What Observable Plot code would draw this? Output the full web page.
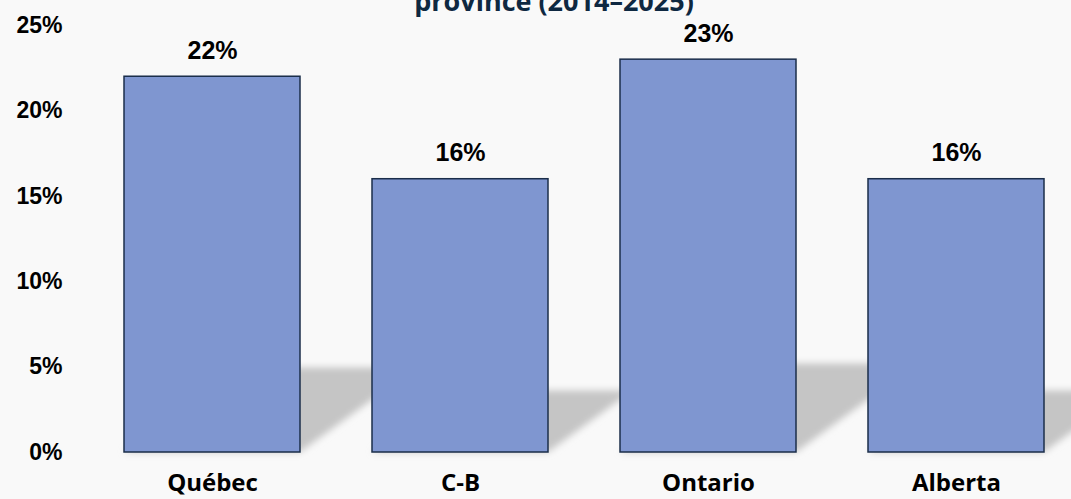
<!DOCTYPE html>
<html><head><meta charset="utf-8">
<script src="https://cdn.jsdelivr.net/npm/d3@7"></script>
<script src="https://cdn.jsdelivr.net/npm/@observablehq/plot@0.6"></script>
<style>
html,body{margin:0;padding:0;background:#f9f9f9;}
#chart{width:1071px;height:499px;overflow:hidden;}
#chart svg{display:block;}
</style></head><body><div id="chart"></div>
<script>
const provinces = ["Québec", "C-B", "Ontario", "Alberta"];
const shares = [22, 16, 23, 16];
const yTicks = [0, 5, 10, 15, 20, 25];
const titleLine = "province (2014–2025)";

const data = provinces.map((p, i) => ({province: p, share: shares[i]}));
const SVGNS = "http://www.w3.org/2000/svg";

function shadowRender(index, scales, values, dimensions, context, next) {
  const g = next(index, scales, values, dimensions, context);
  const y0 = scales.y(0);
  const outer = document.createElementNS(SVGNS, "g");
  const defs = document.createElementNS(SVGNS, "defs");
  const filter = document.createElementNS(SVGNS, "filter");
  filter.setAttribute("id", "barShadowBlur");
  filter.setAttribute("x", "-20%"); filter.setAttribute("y", "-20%");
  filter.setAttribute("width", "140%"); filter.setAttribute("height", "140%");
  const blur = document.createElementNS(SVGNS, "feGaussianBlur");
  blur.setAttribute("stdDeviation", "3.5");
  filter.appendChild(blur);
  defs.appendChild(filter);
  outer.appendChild(defs);
  const inner = document.createElementNS(SVGNS, "g");
  inner.setAttribute("transform", `translate(0,${y0}) skewX(-54) scale(1,0.225) translate(0,${-y0})`);
  inner.appendChild(g);
  const blurred = document.createElementNS(SVGNS, "g");
  blurred.setAttribute("filter", "url(#barShadowBlur)");
  blurred.appendChild(inner);
  outer.appendChild(blurred);
  return outer;
}

const chart = Plot.plot({
  width: 1071,
  height: 499,
  marginLeft: 123,
  marginRight: 25,
  marginTop: 25,
  marginBottom: 47,
  style: {background: "transparent", overflow: "hidden"},
  x: {domain: provinces, paddingInner: 0.29, paddingOuter: 0, label: null},
  y: {domain: [0, 25], label: null},
  marks: [
    Plot.barY(data, {x: "province", y: "share", fill: "#c5c5c5", render: shadowRender}),
    Plot.barY(data, {x: "province", y: "share", fill: "#7f96d0", stroke: "#1b2e4a", strokeWidth: 1.5}),
    Plot.text(data, {x: "province", y: "share", text: d => d.share + "%", dy: -26,
      fontSize: 25, fontWeight: "bold", fontFamily: "Liberation Sans, Arial, sans-serif", fill: "#000"}),
    Plot.axisY({ticks: yTicks, tickFormat: d => d + "%", tickSize: 0, tickPadding: 61, label: null,
      fontSize: 23, fontWeight: "bold", fontFamily: "Liberation Sans, Arial, sans-serif", fill: "#000"}),
    Plot.axisX({tickSize: 0, tickPadding: 21, label: null,
      fontSize: 24, fontWeight: "bold", fontFamily: "Open Sans, sans-serif", fill: "#000"}),
    Plot.text([titleLine], {frameAnchor: "top", text: d => d, dx: -31, dy: -34,
      fontSize: 27, fontWeight: "bold", fontFamily: "Open Sans, sans-serif", fill: "#0e2841"})
  ]
});
document.getElementById("chart").appendChild(chart);
</script>
</body></html>
